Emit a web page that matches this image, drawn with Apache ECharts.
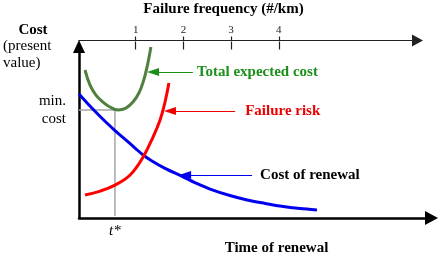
<!DOCTYPE html>
<html>
<head>
<meta charset="utf-8">
<script src="https://cdn.jsdelivr.net/npm/echarts@6/dist/echarts.min.js"></script>
<style>html,body{margin:0;padding:0;background:#fff;}#c{width:441px;height:259px;}</style>
</head>
<body>
<div id="c"></div>
<script>
// ---- data (abstract units: time 0-100, cost 0-100) ----
const freqTicks = [1, 2, 3, 4];
const totalTime = [1.7, 3.1, 4.8, 6.8, 8.8, 11.1, 13.3, 15.3, 17.0, 18.2, 19.3, 20.4];
const totalCost = [86.3, 77.6, 71.7, 67.6, 64.7, 63.0, 64.1, 67.6, 72.9, 79.3, 88.0, 99.7];
const riskTime = [1.7, 6.0, 10.2, 14.5, 18.2, 21.0, 23.0, 24.4, 25.5];
const riskCost = [13.4, 15.7, 19.2, 25.1, 35.6, 47.2, 57.1, 67.6, 78.7];
const renewTime = [0, 3.1, 6.0, 7.9, 10.2, 13.1, 15.9, 18.2, 20.7, 24.4, 28.7, 33.2, 38.0, 42.8, 47.7, 52.8, 57.0, 62.7, 67.5];
const renewCost = [72.3, 65.3, 59.2, 55.4, 51.0, 45.8, 40.8, 36.7, 33.2, 28.9, 24.8, 20.4, 16.3, 13.1, 10.5, 8.5, 7.0, 5.5, 4.7];
const tStar = 10.2;
const minCost = 63.0;
const noteLabels = ['Total expected cost', 'Failure risk', 'Cost of renewal'];
const noteTipTime = [21.0, 25.8, 30.1];
const noteTailTime = [32.3, 44.3, 49.1];
const noteCost = [85.1, 62.4, 25.1];

const SERIF = '"Liberation Serif", "Times New Roman", serif';
const pair = (xs, ys) => xs.map((x, i) => [x, ys[i]]);

function note(i, color, dist) {
  return {
    silent: true,
    symbol: ['none', 'triangle'],
    lineStyle: { color: color, width: 1, type: 'solid' },
    itemStyle: { color: color },
    data: [[
      { coord: [noteTailTime[i], noteCost[i]], symbol: 'none', symbolSize: [1, 1],
        label: { show: true, position: 'start', distance: dist, formatter: noteLabels[i],
          color: i === 2 ? '#000' : color, fontSize: 15, fontWeight: 'bold', fontFamily: SERIF } },
      { coord: [noteTipTime[i], noteCost[i]], symbol: 'triangle', symbolSize: [8, 12] }
    ]]
  };
}

const chart = echarts.init(document.getElementById('c'), null, { renderer: 'canvas' });
chart.setOption({
  animation: false,
  grid: [
    { left: 79, top: 46.5, width: 352.5, height: 171.5 },
    { left: 79, top: 40.5, width: 338.5, height: 1 }
  ],
  xAxis: [
    { type: 'value', gridIndex: 0, min: 0, max: 100,
      axisLine: { show: true, onZero: false, symbol: ['none', 'triangle'], symbolSize: [14, 13], lineStyle: { color: '#000', width: 2.5 } },
      axisTick: { show: false }, splitLine: { show: false },
      axisLabel: { show: true, customValues: [tStar], formatter: () => 't*', margin: 6,
        color: '#000', fontSize: 15, fontStyle: 'italic', fontFamily: SERIF } },
    { type: 'value', gridIndex: 1, position: 'top', min: -0.189, max: 6.907,
      axisLine: { show: true, onZero: false, symbol: ['none', 'triangle'], symbolSize: [12, 11], lineStyle: { color: '#222', width: 1.2 } },
      axisTick: { show: true, inside: false, length: 4, customValues: freqTicks, lineStyle: { color: '#222', width: 1.2 } },
      splitLine: { show: false },
      axisLabel: { show: true, customValues: freqTicks, margin: 5, color: '#222', fontSize: 11, fontFamily: SERIF } },
    { type: 'value', gridIndex: 1, position: 'bottom', min: -0.189, max: 6.907,
      axisLine: { show: false, onZero: false },
      axisTick: { show: true, inside: false, length: 8, customValues: freqTicks, lineStyle: { color: '#222', width: 1.2 } },
      splitLine: { show: false }, axisLabel: { show: false } }
  ],
  yAxis: [
    { type: 'value', gridIndex: 0, min: 0, max: 100,
      axisLine: { show: true, onZero: false, symbol: ['none', 'triangle'], symbolSize: [12, 13], lineStyle: { color: '#000', width: 2.5 } },
      axisTick: { show: false }, splitLine: { show: false },
      axisLabel: { show: true, customValues: [minCost], formatter: () => 'min.\ncost', margin: 13, lineHeight: 18,
        color: '#000', fontSize: 15, fontFamily: SERIF } },
    { type: 'value', gridIndex: 1, show: false, min: 0, max: 1 }
  ],
  graphic: [
    { type: 'text', x: 223.5, y: 9, style: { text: 'Failure frequency (#/km)', font: 'bold 15px ' + SERIF, fill: '#000', align: 'center', verticalAlign: 'middle' } },
    { type: 'text', x: 33, y: 30, style: { text: 'Cost', font: 'bold 15px ' + SERIF, fill: '#000', align: 'center', verticalAlign: 'middle' } },
    { type: 'text', x: 3, y: 46, style: { text: '(present', font: '15px ' + SERIF, fill: '#000', align: 'left', verticalAlign: 'middle' } },
    { type: 'text', x: 3, y: 63, style: { text: 'value)', font: '15px ' + SERIF, fill: '#000', align: 'left', verticalAlign: 'middle' } },
    { type: 'text', x: 276.5, y: 248, style: { text: 'Time of renewal', font: 'bold 15px ' + SERIF, fill: '#000', align: 'center', verticalAlign: 'middle' } }
  ],
  series: [
    { type: 'line', xAxisIndex: 0, yAxisIndex: 0, showSymbol: false, silent: true,
      data: [[0, minCost], [tStar, minCost], [tStar, 1.2]],
      lineStyle: { color: '#a6a6a6', width: 1.5 } },
    { type: 'line', xAxisIndex: 0, yAxisIndex: 0, showSymbol: false, smooth: 0.3, silent: true,
      data: pair(renewTime, renewCost), lineStyle: { color: '#0000ee', width: 3 }, itemStyle: { color: '#0000ee' },
      markLine: note(2, '#0000ee', 8) },
    { type: 'line', xAxisIndex: 0, yAxisIndex: 0, showSymbol: false, smooth: 0.4, silent: true,
      data: pair(riskTime, riskCost), lineStyle: { color: '#ff0000', width: 3 }, itemStyle: { color: '#ff0000' },
      markLine: note(1, '#ee0000', 10) },
    { type: 'line', xAxisIndex: 0, yAxisIndex: 0, showSymbol: false, smooth: 0.4, silent: true,
      data: pair(totalTime, totalCost), lineStyle: { color: '#50803e', width: 3 }, itemStyle: { color: '#50803e' },
      markLine: note(0, '#1a8f1a', 4) }
  ]
});
</script>
</body>
</html>
